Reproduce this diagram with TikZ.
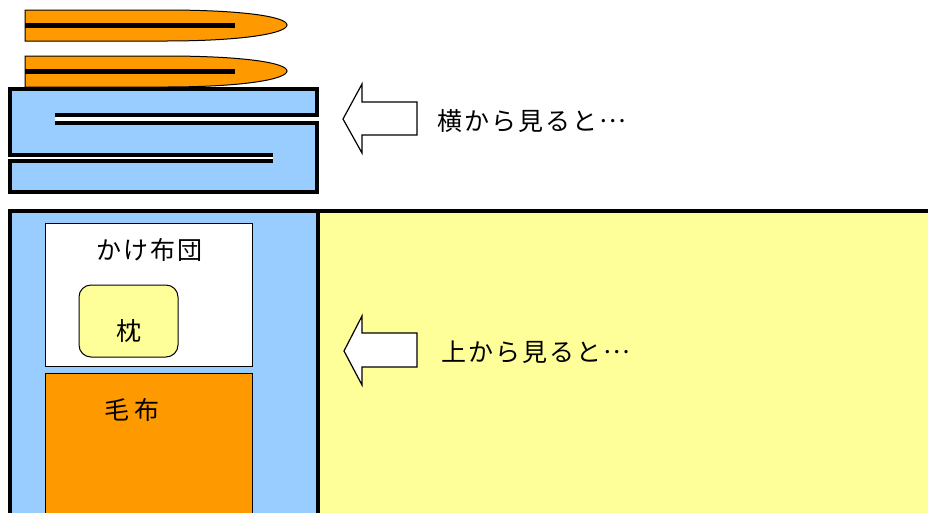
\documentclass[tikz,border=0pt]{standalone}
\usepackage{fontspec}
\newfontfamily\jp[LetterSpace=8]{Noto Sans CJK JP}
\newcommand{\jpdots}{\kern2pt\raisebox{0.3em}{…}}
\definecolor{futonblue}{HTML}{99CCFF}
\definecolor{blanketorange}{HTML}{FF9900}
\definecolor{paleyellow}{HTML}{FFFF99}
\tikzset{
  thickborder/.style={line width=4.5pt},
  thinborder/.style={draw=black, line width=1pt},
  blockarrow/.style={draw=black, fill=white, line width=1.2pt, line join=miter},
  label/.style={font=\jp\fontsize{25}{29}\selectfont, inner sep=0pt, anchor=west},
  inlabel/.style={font=\jp\fontsize{25}{29}\selectfont, inner sep=0pt},
}
\begin{document}
\begin{tikzpicture}[x=1pt,y=-1pt]
\useasboundingbox (0,0) rectangle (928,512);
\clip (0,0) rectangle (928,512);
% blankets (side view)
\foreach \t/\m in {10/25, 56/71}{
  \pgfmathsetmacro{\b}{\t+31}
  \draw[thinborder, fill=blanketorange] (25,\t) -- (165,\t) .. controls (245,\t) and (287,\m-8) .. (287,\m)
     .. controls (287,\m+8) and (245,\b) .. (165,\b) -- (25,\b) -- cycle;
  \draw[line width=5pt] (25,\m) -- (235,\m);
}
% folded futon (side view)
\fill[futonblue] (10,89) -- (317,89) -- (317,115) -- (55,115) -- (55,123) -- (317,123) -- (317,192)
   -- (10,192) -- (10,161) -- (273,161) -- (273,155) -- (10,155) -- cycle;
\draw[thickborder, line join=miter] (55,115) -- (317,115) -- (317,89) -- (10,89) -- (10,155) -- (273,155);
\draw[thickborder, line join=miter] (55,123) -- (317,123) -- (317,192) -- (10,192) -- (10,161) -- (273,161);
% arrow 1
\draw[blockarrow] (343,119) -- (362,84) -- (362,102) -- (417,102) -- (417,135) -- (362,135) -- (362,153) -- cycle;
\node[label] (side) at (437,121) {横から見ると\jpdots};
% top view
\draw[thickborder, fill=paleyellow] (318,211) rectangle (940,540);
\draw[thickborder, fill=futonblue] (10,211) rectangle (318,540);
\draw[thinborder, fill=white] (45,223) rectangle (252,366);
\node[inlabel] (kake) at (149,250) {かけ布団};
\draw[thinborder, fill=paleyellow, rounded corners=12pt] (79,285) rectangle (178,357);
\node[inlabel] (makura) at (129,331) {枕};
\draw[thinborder, fill=blanketorange] (45,373) rectangle (252,540);
\node[inlabel] (moufu) at (132,410) {毛\kern5pt 布};
% arrow 2
\draw[blockarrow] (344,351) -- (362,316) -- (362,333) -- (417,333) -- (417,367) -- (362,367) -- (362,385) -- cycle;
\node[label] (top) at (441,352) {上から見ると\jpdots};
\end{tikzpicture}
\end{document}
